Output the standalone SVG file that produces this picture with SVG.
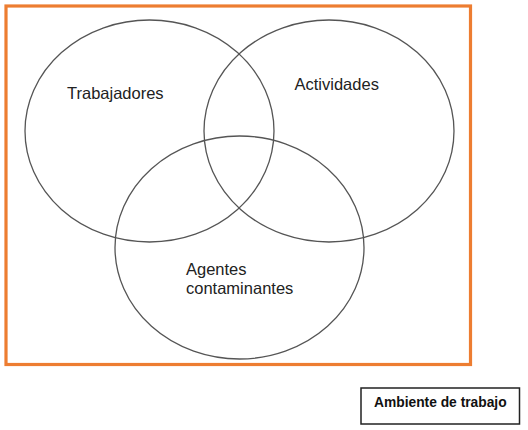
<svg xmlns="http://www.w3.org/2000/svg" width="528" height="430" viewBox="0 0 528 430">
<style>
.set{fill:none;stroke:#555;stroke-width:1.3}
.lbl{font-family:"Liberation Sans",Arial,sans-serif;font-size:16.5px;fill:#222}
.key{font-family:"Liberation Sans",Arial,sans-serif;font-size:13.8px;font-weight:bold;fill:#111}
</style>
<rect width="528" height="430" fill="#fff"/>
<g id="ambiente-frame">
<rect x="6" y="6" width="464.5" height="358.5" fill="none" stroke="#ED7D31" stroke-width="3.2"/>
</g>
<g id="trabajadores">
<ellipse class="set" cx="149.5" cy="131" rx="124.5" ry="111"/>
<text class="lbl" x="67" y="99">Trabajadores</text>
</g>
<g id="actividades">
<ellipse class="set" cx="329" cy="131" rx="125" ry="111"/>
<text class="lbl" x="294.5" y="90">Actividades</text>
</g>
<g id="agentes">
<ellipse class="set" cx="239.5" cy="247.5" rx="124.5" ry="111.5"/>
<text class="lbl" x="186" y="275">Agentes</text>
<text class="lbl" x="186" y="293.5">contaminantes</text>
</g>
<g id="connectors"></g>
<g id="legend">
<rect x="361" y="388" width="158.5" height="36" fill="#fff" stroke="#222" stroke-width="1.5"/>
<text class="key" x="374" y="406.5">Ambiente de trabajo</text>
</g>
</svg>
